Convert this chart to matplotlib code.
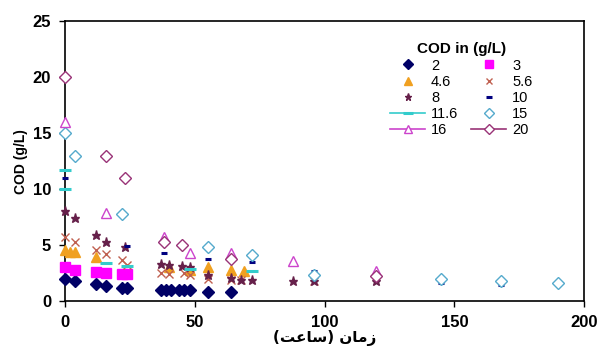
import matplotlib.pyplot as plt
from matplotlib.lines import Line2D

# COD in (g/L) series: time (h) and COD (g/L)
t_2 = [0, 4, 12, 16, 22, 24, 37, 39, 41, 44, 46, 48, 55, 64]
c_2 = [2.0, 1.75, 1.5, 1.35, 1.2, 1.2, 1.0, 1.0, 1.0, 1.0, 1.0, 1.0, 0.8, 0.8]

t_3 = [0, 4, 12, 16, 22, 24]
c_3 = [3.0, 2.8, 2.6, 2.5, 2.4, 2.4]

t_46 = [0, 2, 4, 12, 40, 48, 55, 64, 69]
c_46 = [4.6, 4.4, 4.4, 3.9, 3.0, 2.8, 3.0, 2.8, 2.7]

t_56 = [0, 4, 12, 16, 22, 24, 37, 40, 46, 48, 55, 64, 68, 96]
c_56 = [5.7, 5.3, 4.6, 4.2, 3.7, 3.2, 2.5, 2.4, 2.5, 2.3, 2.0, 1.9, 1.9, 1.8]

t_8 = [0, 4, 12, 16, 23, 37, 40, 45, 48, 55, 64, 68, 72, 88, 96, 120]
c_8 = [8.0, 7.4, 5.9, 5.3, 4.8, 3.3, 3.2, 3.1, 3.0, 2.3, 2.1, 1.9, 1.9, 1.8, 1.8, 1.8]

t_10 = [0, 24, 38, 55, 72, 96, 145, 168]
c_10 = [11.0, 4.9, 4.3, 3.8, 3.5, 2.7, 1.6, 1.4]

t_116 = [0, 0, 16, 24, 48, 72]
c_116 = [11.7, 10.0, 3.4, 3.1, 2.9, 2.7]

t_15 = [0, 4, 22, 55, 72, 96, 145, 168, 190]
c_15 = [15.0, 13.0, 7.8, 4.8, 4.1, 2.3, 2.0, 1.8, 1.6]

t_16 = [0, 16, 38, 48, 64, 88, 120]
c_16 = [16.0, 7.9, 5.7, 4.3, 4.3, 3.6, 2.7]

t_20 = [0, 16, 23, 38, 45, 64, 120]
c_20 = [20.0, 13.0, 11.0, 5.3, 5.0, 3.8, 2.2]

labels = ['2', '3', '4.6', '5.6', '8', '10', '11.6', '15', '16', '20']

plt.rcParams['font.family'] = ['Liberation Sans', 'DejaVu Sans']

fig = plt.figure(figsize=(6.01, 3.58), dpi=100)
ax = fig.add_axes([0.108, 0.159, 0.864, 0.782])

# (x, y, marker, colour, size, filled, line in legend)
styles = [
    (t_2, c_2, 'D', '#000066', 6, True, False),
    (t_3, c_3, 's', '#ff00ff', 7, True, False),
    (t_46, c_46, '^', '#f0a020', 7, True, False),
    (t_56, c_56, 'x', '#c06050', 5.5, True, False),
    (t_8, c_8, '*', '#66204a', 6.5, True, False),
    (t_10, c_10, '_', '#000080', 5, True, False),
    (t_116, c_116, '_', '#33cccc', 9, True, True),
    (t_15, c_15, 'D', '#55aacc', 6, False, False),
    (t_16, c_16, '^', '#cc44cc', 7, False, True),
    (t_20, c_20, 'D', '#993377', 6, False, True),
]

handles = []
for (t, c, m, col, ms, filled, legline), lab in zip(styles, labels):
    face = col if filled else 'white'
    mew = 2.2 if m == '_' else 1.0
    ax.plot(t, c, linestyle='none', marker=m, markersize=ms,
            markerfacecolor=face, markeredgecolor=col, markeredgewidth=mew,
            clip_on=False, zorder=3)
    handles.append(Line2D([], [], color=col, linestyle='-' if legline else 'none',
                          linewidth=1.2, marker=m, markersize=ms * 0.8,
                          markerfacecolor=face, markeredgecolor=col,
                          markeredgewidth=mew, label=lab))

ax.set_xlim(0, 200)
ax.set_ylim(0, 25)
ax.set_xticks([0, 50, 100, 150, 200])
ax.set_yticks([0, 5, 10, 15, 20, 25])
ax.tick_params(direction='out', length=4, width=1, labelsize=12, pad=6)
for lbl in ax.get_xticklabels() + ax.get_yticklabels():
    lbl.set_fontweight('bold')
for s in ax.spines.values():
    s.set_linewidth(1.2)

ax.set_ylabel('COD (g/L)', fontsize=10, fontweight='bold', labelpad=3)
# "زمان (ساعت)" in visual order with presentation forms
xlab = '(\uFE96\uFECB\uFE8E\uFEB3) \uFEE5\uFE8E\uFEE3\uFEAF'
ax.set_xlabel(xlab, fontsize=11, fontweight='bold', labelpad=0,
              family=['DejaVu Sans'])

# row-major order like the reference: 2 3 / 4.6 5.6 / 8 10 / 11.6 15 / 16 20
order = [0, 2, 4, 6, 8, 1, 3, 5, 7, 9]
leg = ax.legend(handles=[handles[i] for i in order], ncol=2, loc='upper left',
                bbox_to_anchor=(0.615, 0.945), borderaxespad=0, frameon=False,
                title='COD in (g/L)', fontsize=10.5, handlelength=2.4,
                handletextpad=0.4, columnspacing=0.9, labelspacing=0.15)
leg.get_title().set_fontweight('bold')
leg.get_title().set_fontsize(11)

fig.savefig('out.png', dpi=100)
